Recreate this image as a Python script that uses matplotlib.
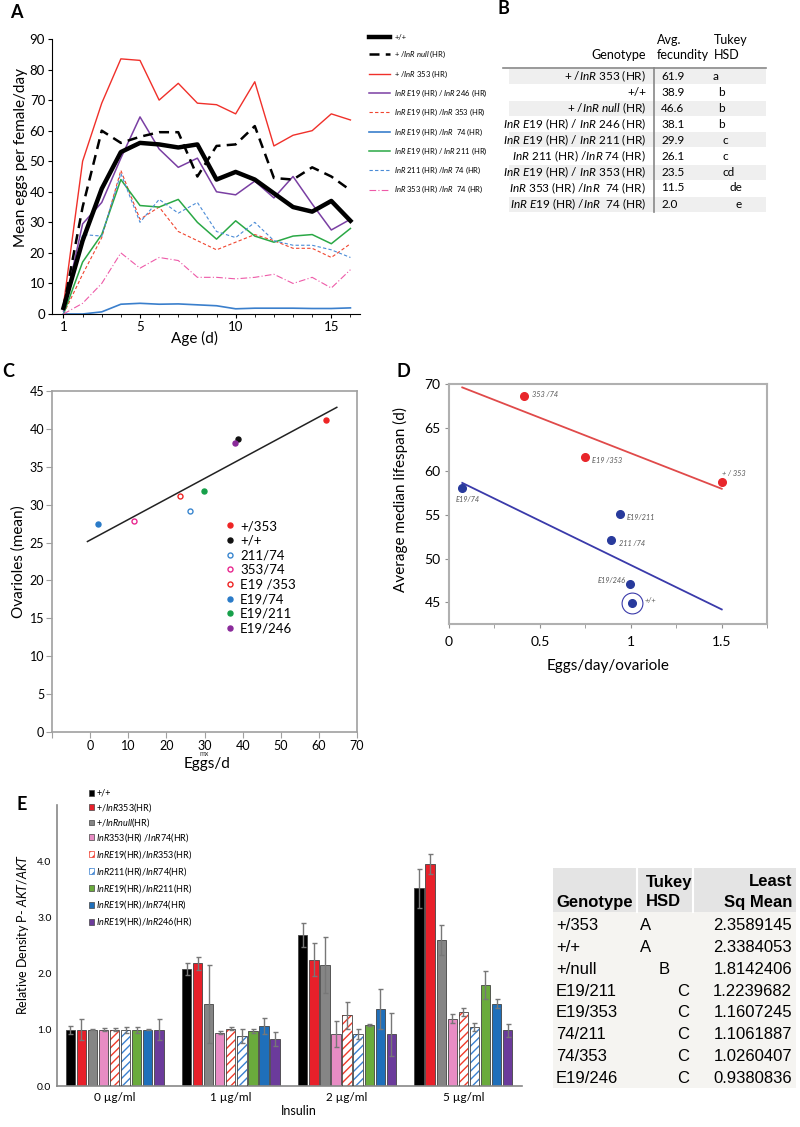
import matplotlib
matplotlib.use("Agg")
import matplotlib.pyplot as plt
import numpy as np
from matplotlib.lines import Line2D
from matplotlib.patches import Patch, Rectangle

plt.rcParams['font.family'] = ['Lato', 'DejaVu Sans']
plt.rcParams['mathtext.fontset'] = 'custom'
plt.rcParams['mathtext.rm'] = 'Lato'
plt.rcParams['mathtext.it'] = 'Lato:italic'
plt.rcParams['mathtext.bf'] = 'Lato:bold'
plt.rcParams['hatch.linewidth'] = 1.0

# ---------------- data ----------------
# A: mean eggs per female per day, days 1..16
days = np.arange(1, 17)
a_wt = [2, 24, 41, 53, 56, 55.5, 54.5, 55.5, 44, 46.5, 44, 39.5, 35, 33.5, 37, 30.5]
a_null = [2, 35, 60, 56, 58, 59.5, 59.5, 45, 55, 55.5, 61.5, 44.5, 44, 48, 45, 40.5]
a_353 = [3, 50, 69, 83.5, 83, 70, 75.5, 69, 68.5, 65.5, 76, 55, 58.5, 60, 65.5, 63.5]
a_e19_246 = [1, 29.5, 36.5, 51, 64.5, 54, 48, 51, 40, 39, 43.5, 38, 45, 36, 27.5, 31]
a_e19_353 = [0, 13, 25, 47, 31, 35, 27, 24, 21, 23.5, 26, 24, 21.5, 21.5, 18.5, 23]
a_e19_74 = [0, 0, 0.7, 3.2, 3.5, 3.2, 3.3, 3.0, 2.7, 1.7, 1.9, 1.9, 1.9, 1.8, 1.8, 2.0]
a_e19_211 = [0, 17, 26, 44, 35.5, 35, 37.5, 30, 24.5, 30.5, 25.5, 23.5, 25.5, 26, 23, 28]
a_211_74 = [0, 26, 25.5, 46, 30, 37.5, 33, 36.5, 27, 25, 30, 24, 22.5, 22.5, 21, 18.5]
a_353_74 = [0, 3.5, 10, 20, 15, 18.5, 17.5, 12, 12, 11.5, 12, 13, 10, 12, 8.5, 14.5]
a_labels = ["+/+",
            r"+ /$\mathit{InR\ null}$ (HR)",
            r"+ /$\mathit{InR\ 353}$ (HR)",
            r"$\mathit{InR\ E19}$ (HR) / $\mathit{InR\ 246}$ (HR)",
            r"$\mathit{InR\ E19}$ (HR) /$\mathit{InR\ 353}$ (HR)",
            r"$\mathit{InR\ E19}$ (HR) /$\mathit{InR\ \ 74}$ (HR)",
            r"$\mathit{InR\ E19}$ (HR) / $\mathit{InR\ 211}$ (HR)",
            r"$\mathit{InR\ 211}$ (HR) /$\mathit{InR\ 74}$ (HR)",
            r"$\mathit{InR\ 353}$ (HR) /$\mathit{InR\ \ 74}$ (HR)"]

# B: table
b_geno = [r"+ /$\mathit{InR\ 353}$ (HR)", "+/+", r"+ /$\mathit{InR\ null}$ (HR)",
          r"$\mathit{InR\ E19}$ (HR) / $\mathit{InR\ 246}$ (HR)",
          r"$\mathit{InR\ E19}$ (HR) / $\mathit{InR\ 211}$ (HR)",
          r"$\mathit{InR\ 211}$ (HR) /$\mathit{InR\ 74}$ (HR)",
          r"$\mathit{InR\ E19}$ (HR) / $\mathit{InR\ 353}$ (HR)",
          r"$\mathit{InR\ 353}$ (HR) /$\mathit{InR\ \ 74}$ (HR)",
          r"$\mathit{InR\ E19}$ (HR) /$\mathit{InR\ \ 74}$ (HR)"]
b_fec = ["61.9", "38.9", "46.6", "38.1", "29.9", "26.1", "23.5", "11.5", "2.0"]
b_tukey = ["a", "b", "b", "b", "c", "c", "cd", "de", "e"]

# C: ovarioles vs eggs/d
c_names = ["+/353", "+/+", "211/74", "353/74", "E19 /353", "E19/74", "E19/211", "E19/246"]
c_eggs = [61.9, 38.9, 26.1, 11.5, 23.5, 2.0, 29.9, 38.1]
c_ovar = [41.2, 38.6, 29.2, 27.85, 31.2, 27.4, 31.85, 38.1]
c_colors = ["#ee2424", "#111111", "#3a86cf", "#e8288f", "#ee2424", "#2a7bc8", "#16a04a", "#8a2a9a"]
c_open = [False, False, True, True, True, False, False, False]

# D: lifespan vs eggs/day/ovariole
d_names = ["353 /74", "E19 /353", "+ / 353", "E19/74", "E19/211", "211 /74", "E19/246", "+/+"]
d_x = [0.413, 0.749, 1.501, 0.073, 0.939, 0.894, 0.996, 1.007]
d_y = [68.58, 61.6, 58.77, 58.1, 55.1, 52.1, 47.1, 44.96]
d_grp = ["r", "r", "r", "b", "b", "b", "b", "b"]

# E: relative density P-AKT/AKT
e_conc = ["0 \u00b5g/ml", "1 \u00b5g/ml", "2 \u00b5g/ml", "5 \u00b5g/ml"]
e_names = ["+/+", r"+/$\mathit{InR353}$(HR)", r"+/$\mathit{InRnull}$(HR)",
           r"$\mathit{InR353}$(HR) /$\mathit{InR74}$(HR)",
           r"$\mathit{InRE19}$(HR)/$\mathit{InR353}$(HR)",
           r"$\mathit{InR211}$(HR)/$\mathit{InR74}$(HR)",
           r"$\mathit{InRE19}$(HR)/$\mathit{InR211}$(HR)",
           r"$\mathit{InRE19}$(HR)/$\mathit{InR74}$(HR)",
           r"$\mathit{InRE19}$(HR)/$\mathit{InR246}$(HR)"]
e_vals = [[1.00, 2.08, 2.69, 3.52],
          [1.00, 2.18, 2.25, 3.95],
          [1.00, 1.46, 2.15, 2.60],
          [1.00, 0.95, 0.93, 1.20],
          [1.00, 1.02, 1.26, 1.32],
          [1.00, 0.89, 0.93, 1.05],
          [1.00, 0.98, 1.08, 1.79],
          [1.00, 1.07, 1.37, 1.46],
          [1.00, 0.84, 0.92, 0.99]]
e_err = [[0.07, 0.11, 0.21, 0.35],
         [0.19, 0.12, 0.29, 0.18],
         [0.01, 0.69, 0.50, 0.27],
         [0.03, 0.02, 0.23, 0.08],
         [0.03, 0.03, 0.24, 0.07],
         [0.05, 0.13, 0.09, 0.07],
         [0.05, 0.03, 0.02, 0.25],
         [0.01, 0.14, 0.35, 0.08],
         [0.19, 0.12, 0.38, 0.11]]
e_colors = ["#000000", "#e8202a", "#858585", "#e88cc4", "white", "white", "#6aab3c", "#1f6fba", "#6b3b9b"]
e_hatchcol = [None, None, None, None, "#f03a2a", "#3a80d0", None, None, None]

# table E
t_geno = ["+/353", "+/+", "+/null", "E19/211", "E19/353", "74/211", "74/353", "E19/246"]
t_hsd = ["A", "A", "B", "C", "C", "C", "C", "C"]
t_lsm = ["2.3589145", "2.3384053", "1.8142406", "1.2239682", "1.1607245", "1.1061887", "1.0260407", "0.9380836"]

# ---------------- figure ----------------
W, H = 800, 1127
fig = plt.figure(figsize=(8, 11.27), dpi=100)


def box(l, t, r, b):
    return [l / W, 1 - b / H, (r - l) / W, (b - t) / H]


def ftext(x, y, s, **kw):
    fig.text(x / W, 1 - y / H, s, **kw)


def frect(x0, y0, x1, y1, color):
    fig.add_artist(Rectangle((x0 / W, 1 - y1 / H), (x1 - x0) / W, (y1 - y0) / H,
                             transform=fig.transFigure, facecolor=color, edgecolor='none', zorder=0))


for lt, (x, y) in zip("ABCDE", [(16, 12), (503, 9), (8, 371), (403, 371), (22, 804)]):
    ftext(x, y, lt, fontsize=13, fontweight='bold', ha='center', va='center')

# ---- A ----
axA = fig.add_axes(box(52, 39, 360, 314))
a_series = [a_wt, a_null, a_353, a_e19_246, a_e19_353, a_e19_74, a_e19_211, a_211_74, a_353_74]
a_styles = [dict(color='black', lw=3.2, zorder=5),
            dict(color='black', lw=1.8, dashes=(4, 2.5), zorder=4),
            dict(color='#f0302a', lw=1.0),
            dict(color='#7a3fa3', lw=1.1),
            dict(color='#f0452f', lw=0.8, dashes=(3, 2)),
            dict(color='#3a7fcc', lw=1.2),
            dict(color='#2aa845', lw=1.1),
            dict(color='#4a8bd6', lw=0.8, dashes=(3, 2)),
            dict(color='#ee5aa8', lw=0.8, dashes=(6, 2, 1, 2))]
a_handles = []
for vals, st in zip(a_series, a_styles):
    ln, = axA.plot(days, vals, **st)
    a_handles.append(ln)
axA.set_xlim(0.4, 16.5)
axA.set_ylim(0, 90)
axA.set_xticks([1, 5, 10, 15])
axA.set_xticks(days, minor=True)
axA.set_yticks(range(0, 91, 10))
for s in ['top', 'right']:
    axA.spines[s].set_visible(False)
axA.tick_params(direction='out', length=3, labelsize=9.5, pad=2)
axA.tick_params(which='minor', length=2)
axA.set_ylabel("Mean eggs per female/day", fontsize=11)
axA.yaxis.set_label_coords(-0.078, 0.57)
axA.set_xlabel("Age (d)", fontsize=11)
axA.xaxis.set_label_coords(0.464, -0.062)
fig.legend(a_handles, a_labels, loc='upper left', bbox_to_anchor=(369 / W, 1 - 34 / H),
           frameon=False, fontsize=5.5, handlelength=2.7, handletextpad=0.6,
           labelspacing=1.05, borderpad=0, borderaxespad=0)

# ---- B table ----
ftext(646, 55, "Genotype", fontsize=9, ha='right', va='center')
ftext(657, 40, "Avg.", fontsize=9, ha='left', va='center')
ftext(657, 55, "fecundity", fontsize=9, ha='left', va='center')
ftext(714, 40, "Tukey", fontsize=9, ha='left', va='center')
ftext(714, 55, "HSD", fontsize=9, ha='left', va='center')
fig.add_artist(Line2D([503 / W, 766 / W], [1 - 68 / H, 1 - 68 / H], transform=fig.transFigure,
                      color='#888888', lw=1.2))
fig.add_artist(Line2D([654 / W, 654 / W], [1 - 68 / H, 1 - 212 / H], transform=fig.transFigure,
                      color='#888888', lw=1.2))
b_tx = [716, 721, 721, 721, 725.5, 725.5, 729, 736, 738.5]
for i in range(len(b_geno)):
    y = 76 + 16 * i
    if i % 2 == 0:
        frect(509, y - 7.5, 766, y + 7.5, '#efefef')
    ftext(646, y, b_geno[i], fontsize=8.5, ha='right', va='center')
    ftext(661, y, b_fec[i], fontsize=8.5, ha='left', va='center')
    ftext(b_tx[i], y, b_tukey[i], fontsize=8.5, ha='center', va='center')

# ---- C ----
axC = fig.add_axes(box(52, 391, 357, 732))
for n, xv, yv, c, op in zip(c_names, c_eggs, c_ovar, c_colors, c_open):
    axC.plot([xv], [yv], 'o', ms=3.6, color=c, mfc='white' if op else c, mew=1.0, label=n, ls='none')
cf = np.polyfit(c_eggs, c_ovar, 1)
cx = np.array([-0.7, 64.7])
axC.plot(cx, np.polyval(cf, cx), color='#222222', lw=1.1)
axC.set_xlim(-10, 70)
axC.set_ylim(0, 45)
axC.set_xticks(range(-10, 71, 10))
axC.set_xticklabels([""] + [str(v) for v in range(0, 71, 10)])
axC.set_yticks(range(0, 46, 5))
for s in axC.spines.values():
    s.set_color('#a0a0a0')
    s.set_linewidth(1.2)
axC.tick_params(direction='out', length=4, color='#a0a0a0', labelsize=9, pad=1.5)
axC.set_ylabel("Ovarioles (mean)", fontsize=11)
axC.yaxis.set_label_coords(-0.085, 0.5)
axC.set_xlabel("Eggs/d", fontsize=11)
axC.xaxis.set_label_coords(0.51, -0.072)
ftext(204, 753, "mx", fontsize=5, ha='center', va='center', color='#333333')
axC.legend(loc='upper left', bbox_to_anchor=(225 / W, 1 - 520 / H), bbox_transform=fig.transFigure,
           frameon=False, fontsize=9.5, handlelength=0.8, handletextpad=0.35, labelspacing=0.2,
           borderpad=0, borderaxespad=0, numpoints=1)

# ---- D ----
axD = fig.add_axes(box(449, 384, 767, 624))
dcol = {"r": "#e8262b", "b": "#283a9c"}
dline = {"r": "#e04a4a", "b": "#3a3aaa"}
d_offs = [(8, 2), (7, -3), (0, 9), (-7, -12), (7, -3), (8, -3), (-4, 3), (13, 2)]
d_ha = ['left', 'left', 'left', 'left', 'left', 'left', 'right', 'left']
for g in ["r", "b"]:
    xs = [x for x, gg in zip(d_x, d_grp) if gg == g]
    ys = [y for y, gg in zip(d_y, d_grp) if gg == g]
    f = np.polyfit(xs, ys, 1)
    lx = np.array([min(d_x), max(d_x)])
    axD.plot(lx, np.polyval(f, lx), color=dline[g], lw=1.3)
for n, xv, yv, g, off, ha in zip(d_names, d_x, d_y, d_grp, d_offs, d_ha):
    axD.plot([xv], [yv], 'o', ms=5.5, color=dcol[g], zorder=5)
    axD.annotate(n, (xv, yv), xytext=off, textcoords='offset pixels', fontsize=5.3,
                 style='italic', color='#555555', ha=ha, va='center')
i_wt = d_names.index("+/+")
axD.plot([d_x[i_wt]], [d_y[i_wt]], 'o', ms=15, mfc='none', mec='#3a3aaa', mew=0.8)
axD.set_xlim(0, 1.75)
axD.set_ylim(42.5, 70)
axD.set_xticks([0, 0.5, 1, 1.5])
axD.set_xticklabels(["0", "0.5", "1", "1.5"])
axD.set_xticks([0.25, 0.75, 1.25, 1.75], minor=True)
axD.set_yticks(range(45, 71, 5))
for s in axD.spines.values():
    s.set_color('#b0b0b0')
    s.set_linewidth(1.5)
axD.tick_params(direction='out', length=3, color='#909090', labelsize=10, pad=6)
axD.tick_params(axis='y', pad=3)
axD.tick_params(which='minor', length=3, color='#909090')
axD.set_ylabel("Average median lifespan (d)", fontsize=11)
axD.yaxis.set_label_coords(-0.129, 0.517)
axD.set_xlabel("Eggs/day/ovariole", fontsize=11)
axD.xaxis.set_label_coords(0.5, -0.146)

# ---- E ----
axE = fig.add_axes(box(57, 805, 522, 1086))
gpos = np.arange(len(e_conc)) * 10.5
bw = 0.84
e_handles = []
for i, (vals, errs, col, hc) in enumerate(zip(e_vals, e_err, e_colors, e_hatchcol)):
    xs = gpos + i
    if hc is None:
        axE.bar(xs, vals, bw, color=col, edgecolor='#444444', lw=0.6, zorder=2)
        e_handles.append(Patch(facecolor=col, edgecolor='#444444', lw=0.5))
    else:
        axE.bar(xs, vals, bw, color='white', edgecolor=hc, hatch='////', lw=0, zorder=2)
        axE.bar(xs, vals, bw, fill=False, edgecolor='#444444', lw=0.6, zorder=3)
        e_handles.append(Patch(facecolor='white', edgecolor=hc, hatch='////', lw=0.5))
    axE.errorbar(xs, vals, yerr=errs, fmt='none', ecolor='#777777', elinewidth=1.0,
                 capsize=1.8, capthick=1.0, zorder=4)
axE.set_xlim(-1.2, 40.8)
axE.set_ylim(0, 5)
axE.set_yticks([0, 1, 2, 3, 4])
axE.set_yticklabels(["0.0", "1.0", "2.0", "3.0", "4.0"])
axE.set_xticks(gpos + 4)
axE.set_xticklabels(e_conc)
for s in ['top', 'right']:
    axE.spines[s].set_visible(False)
for s in ['left', 'bottom']:
    axE.spines[s].set_color('#888888')
    axE.spines[s].set_linewidth(1.2)
axE.tick_params(axis='x', length=0, labelsize=8.5, pad=4)
axE.tick_params(axis='y', length=0, labelsize=7.5, pad=4)
axE.set_ylabel(r"Relative Density P- $\mathit{AKT/AKT}$", fontsize=9)
axE.yaxis.set_label_coords(-0.056, 0.54)
axE.set_xlabel("Insulin", fontsize=9)
axE.xaxis.set_label_coords(0.52, -0.068)
fig.legend(e_handles[:3], e_names[:3], loc='upper left', bbox_to_anchor=(89 / W, 1 - 789 / H),
           frameon=False, fontsize=6.5, handlelength=0.6, handleheight=0.6, handletextpad=0.2,
           labelspacing=0.3, borderpad=0, borderaxespad=0)
fig.legend(e_handles[3:], e_names[3:], loc='upper left', bbox_to_anchor=(89 / W, 1 - 831 / H),
           frameon=False, fontsize=6.5, handlelength=0.6, handleheight=0.6, handletextpad=0.2,
           labelspacing=0.45, borderpad=0, borderaxespad=0)

# ---- E table ----
tf = ['Liberation Sans', 'DejaVu Sans']
frect(553, 868, 796, 912, '#e4e4e4')
frect(553, 912, 796, 1088, '#f5f4f1')
for xs in (637, 693):
    fig.add_artist(Line2D([xs / W, xs / W], [1 - 868 / H, 1 - 912 / H], transform=fig.transFigure,
                          color='white', lw=1.5))
ftext(556, 902, "Genotype", family=tf, fontsize=12, fontweight='bold', ha='left', va='center')
ftext(646, 882, "Tukey", family=tf, fontsize=12, fontweight='bold', ha='left', va='center')
ftext(646, 902, "HSD", family=tf, fontsize=12, fontweight='bold', ha='left', va='center')
ftext(792, 882, "Least", family=tf, fontsize=12, fontweight='bold', ha='right', va='center')
ftext(792, 902, "Sq Mean", family=tf, fontsize=12, fontweight='bold', ha='right', va='center')
hsd_x = {"A": 646, "B": 664, "C": 683}
for i in range(len(t_geno)):
    y = 925.7 + 21.8 * i
    ftext(556, y, t_geno[i], family=tf, fontsize=12, ha='left', va='center')
    ftext(hsd_x[t_hsd[i]], y, t_hsd[i], family=tf, fontsize=12, ha='center', va='center')
    ftext(792, y, t_lsm[i], family=tf, fontsize=12, ha='right', va='center')

fig.savefig("out.png", dpi=100)
